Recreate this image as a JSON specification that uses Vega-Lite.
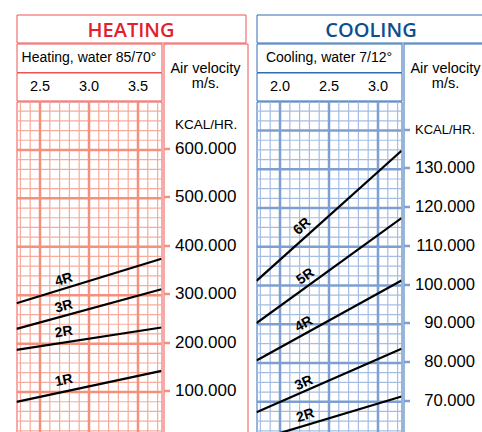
{
  "$schema": "https://vega.github.io/schema/vega-lite/v6.json",
  "padding": {"left": 15.5, "top": 13.5, "right": 0, "bottom": 0},
  "config": {
    "text": {"font": "Liberation Sans"},
    "axis": {"labelFont": "Liberation Sans"},
    "title": {"font": "Liberation Sans"}
  },
  "datasets": {
    "hMinV": [{"v": 2.3}, {"v": 2.4}, {"v": 2.6}, {"v": 2.7}, {"v": 2.8}, {"v": 2.9}, {"v": 3.1}, {"v": 3.2}, {"v": 3.3}, {"v": 3.4}, {"v": 3.6}, {"v": 3.7}],
    "hMajV": [{"v": 2.5}, {"v": 3.0}, {"v": 3.5}],
    "hMinH": [{"k": 20000}, {"k": 40000}, {"k": 60000}, {"k": 80000}, {"k": 120000}, {"k": 140000}, {"k": 160000}, {"k": 180000}, {"k": 220000}, {"k": 240000}, {"k": 260000}, {"k": 280000}, {"k": 320000}, {"k": 340000}, {"k": 360000}, {"k": 380000}, {"k": 420000}, {"k": 440000}, {"k": 460000}, {"k": 480000}, {"k": 520000}, {"k": 540000}, {"k": 560000}, {"k": 580000}, {"k": 620000}, {"k": 640000}, {"k": 660000}, {"k": 680000}],
    "hMajH": [{"k": 100000}, {"k": 200000}, {"k": 300000}, {"k": 400000}, {"k": 500000}, {"k": 600000}],
    "hCurves": [
      {"series": "1R", "v": 2.26, "k": 79900}, {"series": "1R", "v": 3.74, "k": 143900},
      {"series": "2R", "v": 2.26, "k": 187300}, {"series": "2R", "v": 3.74, "k": 233300},
      {"series": "3R", "v": 2.26, "k": 230600}, {"series": "3R", "v": 3.74, "k": 312400},
      {"series": "4R", "v": 2.26, "k": 283500}, {"series": "4R", "v": 3.74, "k": 375200}
    ],
    "hLabels": [
      {"series": "4R", "v": 2.743, "k": 331800},
      {"series": "3R", "v": 2.743, "k": 276700},
      {"series": "2R", "v": 2.743, "k": 223600},
      {"series": "1R", "v": 2.743, "k": 123900}
    ],
    "cMinV": [{"v": 1.8}, {"v": 1.9}, {"v": 2.1}, {"v": 2.2}, {"v": 2.3}, {"v": 2.4}, {"v": 2.6}, {"v": 2.7}, {"v": 2.8}, {"v": 2.9}, {"v": 3.1}, {"v": 3.2}],
    "cMajV": [{"v": 2.0}, {"v": 2.5}, {"v": 3.0}],
    "cMinH": [{"k": 62500}, {"k": 65000}, {"k": 67500}, {"k": 72500}, {"k": 75000}, {"k": 77500}, {"k": 82500}, {"k": 85000}, {"k": 87500}, {"k": 92500}, {"k": 95000}, {"k": 97500}, {"k": 102500}, {"k": 105000}, {"k": 107500}, {"k": 112500}, {"k": 115000}, {"k": 117500}, {"k": 122500}, {"k": 125000}, {"k": 127500}, {"k": 132500}, {"k": 135000}, {"k": 137500}, {"k": 142500}, {"k": 145000}],
    "cMajH": [{"k": 70000}, {"k": 80000}, {"k": 90000}, {"k": 100000}, {"k": 110000}, {"k": 120000}, {"k": 130000}, {"k": 140000}],
    "cCurves": [
      {"series": "2R", "v": 1.76, "k": 60100}, {"series": "2R", "v": 3.24, "k": 71360},
      {"series": "3R", "v": 1.76, "k": 67300}, {"series": "3R", "v": 3.24, "k": 83670},
      {"series": "4R", "v": 1.76, "k": 80650}, {"series": "4R", "v": 3.24, "k": 101300},
      {"series": "5R", "v": 1.76, "k": 90300}, {"series": "5R", "v": 3.24, "k": 117400},
      {"series": "6R", "v": 1.76, "k": 101200}, {"series": "6R", "v": 3.24, "k": 134800}
    ],
    "cLabels": [
      {"series": "6R", "v": 2.226, "k": 115240},
      {"series": "5R", "v": 2.26, "k": 102330},
      {"series": "4R", "v": 2.243, "k": 90020},
      {"series": "3R", "v": 2.243, "k": 74790},
      {"series": "2R", "v": 2.26, "k": 66400}
    ]
  },
  "spacing": 7,
  "hconcat": [
    {
      "spacing": -1,
      "vconcat": [
        {
          "width": 229, "height": 28,
          "view": {"stroke": "#ee5555", "strokeWidth": 1},
          "data": {"values": [{"t": "HEATING"}]},
          "mark": {"type": "text", "font": "Open Sans", "fontSize": 20, "fontWeight": 600, "color": "#e31e2d", "dy": 2},
          "encoding": {"text": {"field": "t"}}
        },
        {
          "spacing": -1,
          "hconcat": [
            {
              "spacing": -1,
              "vconcat": [
                {
                  "width": 145, "height": 28.5,
                  "view": {"stroke": "#ee5555", "strokeWidth": 1},
                  "data": {"values": [{"t": "Heating, water 85/70°"}]},
                  "mark": {"type": "text", "fontSize": 14, "color": "black"},
                  "encoding": {"text": {"field": "t"}}
                },
                {
                  "width": 145, "height": 28,
                  "view": {"stroke": "#ee5555", "strokeWidth": 1},
                  "data": {"name": "hMajV"},
                  "mark": {"type": "text", "fontSize": 14.5, "color": "black"},
                  "encoding": {
                    "x": {"field": "v", "type": "quantitative", "scale": {"domain": [2.26, 3.74], "nice": false, "zero": false}, "axis": null},
                    "text": {"field": "v", "type": "quantitative", "format": ".1f"}
                  }
                },
                {
                  "width": 145, "height": 339,
                  "view": {"stroke": "#ee5555", "strokeWidth": 1},
                  "encoding": {
                    "x": {"field": "v", "type": "quantitative", "scale": {"domain": [2.26, 3.74], "nice": false, "zero": false}, "axis": null},
                    "y": {"field": "k", "type": "quantitative", "scale": {"domain": [0, 700000], "nice": false, "zero": false}, "axis": null}
                  },
                  "layer": [
                    {
                      "data": {"name": "hMinV"},
                      "mark": {"type": "rule", "color": "#f7ab9c", "strokeWidth": 1.2, "clip": true},
                      "encoding": {"y": null}
                    },
                    {
                      "data": {"name": "hMinH"},
                      "mark": {"type": "rule", "color": "#f7ab9c", "strokeWidth": 1.2, "clip": true},
                      "encoding": {"x": null}
                    },
                    {
                      "data": {"name": "hMajV"},
                      "mark": {"type": "rule", "color": "#f4907c", "strokeWidth": 2.5, "clip": true},
                      "encoding": {"y": null}
                    },
                    {
                      "data": {"name": "hMajH"},
                      "mark": {"type": "rule", "color": "#f4907c", "strokeWidth": 2.5, "clip": true},
                      "encoding": {"x": null}
                    },
                    {
                      "data": {"name": "hCurves"},
                      "mark": {"type": "line", "color": "black", "strokeWidth": 2.2, "clip": true},
                      "encoding": {"detail": {"field": "series", "type": "nominal"}}
                    },
                    {
                      "data": {"name": "hLabels"},
                      "transform": [{"filter": "datum.series === '4R'"}],
                      "mark": {"type": "text", "fontSize": 14, "fontWeight": "bold", "color": "black", "angle": 343},
                      "encoding": {"text": {"field": "series", "type": "nominal"}}
                    },
                    {
                      "data": {"name": "hLabels"},
                      "transform": [{"filter": "datum.series === '3R'"}],
                      "mark": {"type": "text", "fontSize": 14, "fontWeight": "bold", "color": "black", "angle": 345},
                      "encoding": {"text": {"field": "series", "type": "nominal"}}
                    },
                    {
                      "data": {"name": "hLabels"},
                      "transform": [{"filter": "datum.series === '2R'"}],
                      "mark": {"type": "text", "fontSize": 14, "fontWeight": "bold", "color": "black", "angle": 351},
                      "encoding": {"text": {"field": "series", "type": "nominal"}}
                    },
                    {
                      "data": {"name": "hLabels"},
                      "transform": [{"filter": "datum.series === '1R'"}],
                      "mark": {"type": "text", "fontSize": 14, "fontWeight": "bold", "color": "black", "angle": 348},
                      "encoding": {"text": {"field": "series", "type": "nominal"}}
                    }
                  ]
                }
              ]
            },
            {
              "width": 84, "height": 395.5,
              "view": {"stroke": "#ee5555", "strokeWidth": 1},
              "title": {"text": ["Air velocity", "m/s."], "fontSize": 14.5, "fontWeight": "normal", "color": "black", "lineHeight": 15.5, "offset": -48, "anchor": "middle", "frame": "group"},
              "data": {"name": "hMajH"},
              "mark": {"type": "point", "opacity": 0},
              "encoding": {
                "y": {
                  "field": "k", "type": "quantitative",
                  "scale": {"domain": [0, 700000], "range": [395.5, 56.5], "nice": false, "zero": false},
                  "axis": {
                    "orient": "right", "offset": -84,
                    "values": [100000, 200000, 300000, 400000, 500000, 600000, 650000],
                    "domain": false, "grid": false, "title": null,
                    "tickSize": 6, "tickWidth": 2.5, "tickColor": "#f4907c",
                    "tickOpacity": {"condition": {"test": "datum.value > 640000", "value": 0}, "value": 1},
                    "labelExpr": "datum.value > 640000 ? 'KCAL/HR.' : format(datum.value / 1000, 'd') + '.000'",
                    "labelFontSize": {"condition": {"test": "datum.value > 640000", "value": 13.5}, "value": 17},
                    "labelAlign": "left", "labelPadding": 5, "labelColor": "black",
                    "labelFlush": false, "labelOverlap": false, "labelBound": false,
                    "minExtent": 0, "maxExtent": 84
                  }
                }
              }
            }
          ]
        }
      ]
    },
    {
      "spacing": -1,
      "vconcat": [
        {
          "width": 229, "height": 28,
          "view": {"stroke": "#2e6db4", "strokeWidth": 1},
          "data": {"values": [{"t": "COOLING"}]},
          "mark": {"type": "text", "font": "Open Sans", "fontSize": 20, "fontWeight": 600, "color": "#0d4e8e", "dy": 2},
          "encoding": {"text": {"field": "t"}}
        },
        {
          "spacing": -1,
          "hconcat": [
            {
              "spacing": -1,
              "vconcat": [
                {
                  "width": 145, "height": 28.5,
                  "view": {"stroke": "#2e6db4", "strokeWidth": 1},
                  "data": {"values": [{"t": "Cooling, water 7/12°"}]},
                  "mark": {"type": "text", "fontSize": 14, "color": "black"},
                  "encoding": {"text": {"field": "t"}}
                },
                {
                  "width": 145, "height": 28,
                  "view": {"stroke": "#2e6db4", "strokeWidth": 1},
                  "data": {"name": "cMajV"},
                  "mark": {"type": "text", "fontSize": 14.5, "color": "black"},
                  "encoding": {
                    "x": {"field": "v", "type": "quantitative", "scale": {"domain": [1.76, 3.24], "nice": false, "zero": false}, "axis": null},
                    "text": {"field": "v", "type": "quantitative", "format": ".1f"}
                  }
                },
                {
                  "width": 145, "height": 339,
                  "view": {"stroke": "#2e6db4", "strokeWidth": 1},
                  "encoding": {
                    "x": {"field": "v", "type": "quantitative", "scale": {"domain": [1.76, 3.24], "nice": false, "zero": false}, "axis": null},
                    "y": {"field": "k", "type": "quantitative", "scale": {"domain": [60000, 147500], "nice": false, "zero": false}, "axis": null}
                  },
                  "layer": [
                    {
                      "data": {"name": "cMinV"},
                      "mark": {"type": "rule", "color": "#a6bde3", "strokeWidth": 1.2, "clip": true},
                      "encoding": {"y": null}
                    },
                    {
                      "data": {"name": "cMinH"},
                      "mark": {"type": "rule", "color": "#a6bde3", "strokeWidth": 1.2, "clip": true},
                      "encoding": {"x": null}
                    },
                    {
                      "data": {"name": "cMajV"},
                      "mark": {"type": "rule", "color": "#7e9fd2", "strokeWidth": 2.5, "clip": true},
                      "encoding": {"y": null}
                    },
                    {
                      "data": {"name": "cMajH"},
                      "mark": {"type": "rule", "color": "#7e9fd2", "strokeWidth": 2.5, "clip": true},
                      "encoding": {"x": null}
                    },
                    {
                      "data": {"name": "cCurves"},
                      "mark": {"type": "line", "color": "black", "strokeWidth": 2.2, "clip": true},
                      "encoding": {"detail": {"field": "series", "type": "nominal"}}
                    },
                    {
                      "data": {"name": "cLabels"},
                      "transform": [{"filter": "datum.series === '6R'"}],
                      "mark": {"type": "text", "fontSize": 14, "fontWeight": "bold", "color": "black", "angle": 318},
                      "encoding": {"text": {"field": "series", "type": "nominal"}}
                    },
                    {
                      "data": {"name": "cLabels"},
                      "transform": [{"filter": "datum.series === '5R'"}],
                      "mark": {"type": "text", "fontSize": 14, "fontWeight": "bold", "color": "black", "angle": 324},
                      "encoding": {"text": {"field": "series", "type": "nominal"}}
                    },
                    {
                      "data": {"name": "cLabels"},
                      "transform": [{"filter": "datum.series === '4R'"}],
                      "mark": {"type": "text", "fontSize": 14, "fontWeight": "bold", "color": "black", "angle": 331},
                      "encoding": {"text": {"field": "series", "type": "nominal"}}
                    },
                    {
                      "data": {"name": "cLabels"},
                      "transform": [{"filter": "datum.series === '3R'"}],
                      "mark": {"type": "text", "fontSize": 14, "fontWeight": "bold", "color": "black", "angle": 336},
                      "encoding": {"text": {"field": "series", "type": "nominal"}}
                    },
                    {
                      "data": {"name": "cLabels"},
                      "transform": [{"filter": "datum.series === '2R'"}],
                      "mark": {"type": "text", "fontSize": 14, "fontWeight": "bold", "color": "black", "angle": 343},
                      "encoding": {"text": {"field": "series", "type": "nominal"}}
                    }
                  ]
                }
              ]
            },
            {
              "width": 84, "height": 395.5,
              "view": {"stroke": "#2e6db4", "strokeWidth": 1},
              "title": {"text": ["Air velocity", "m/s."], "fontSize": 14.5, "fontWeight": "normal", "color": "black", "lineHeight": 15.5, "offset": -48, "anchor": "middle", "frame": "group"},
              "data": {"name": "cMajH"},
              "mark": {"type": "point", "opacity": 0},
              "encoding": {
                "y": {
                  "field": "k", "type": "quantitative",
                  "scale": {"domain": [60000, 147500], "range": [395.5, 56.5], "nice": false, "zero": false},
                  "axis": {
                    "orient": "right", "offset": -84,
                    "values": [70000, 80000, 90000, 100000, 110000, 120000, 130000, 140000],
                    "domain": false, "grid": false, "title": null,
                    "tickSize": 6, "tickWidth": 2.5, "tickColor": "#7e9fd2",
                    "labelExpr": "datum.value > 135000 ? 'KCAL/HR.' : format(datum.value / 1000, 'd') + '.000'",
                    "labelFontSize": {"condition": {"test": "datum.value > 135000", "value": 13}, "value": 16.6},
                    "labelAlign": "right", "labelPadding": 65, "labelColor": "black",
                    "labelFlush": false, "labelOverlap": false, "labelBound": false,
                    "minExtent": 0, "maxExtent": 84
                  }
                }
              }
            }
          ]
        }
      ]
    }
  ]
}
